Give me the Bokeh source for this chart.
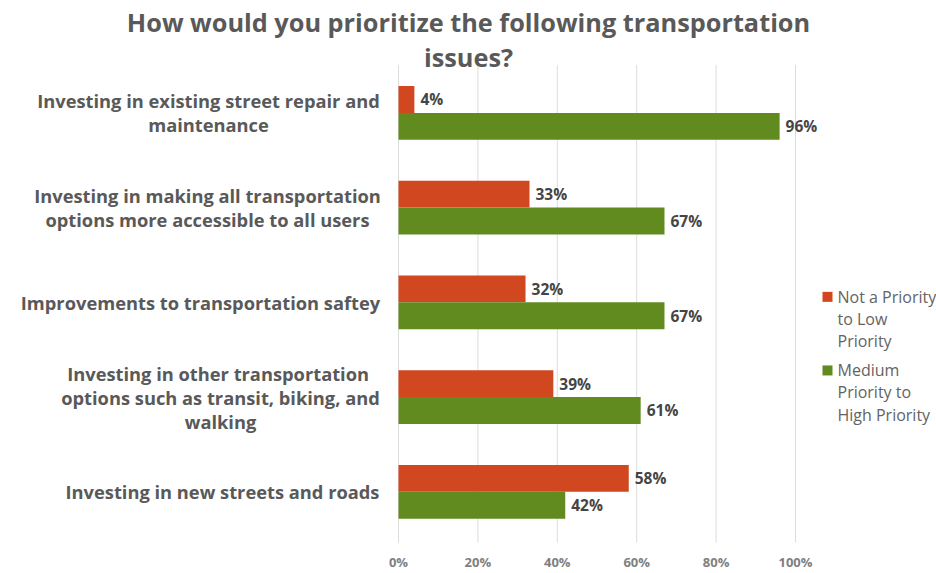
from bokeh.plotting import figure
from bokeh.models import Range1d, FixedTicker, ColumnDataSource
from bokeh.core.properties import value
from bokeh.embed import file_html
from bokeh.resources import INLINE

# ---------------- data ----------------
categories = [
    "Investing in existing street repair and\nmaintenance",
    "Investing in making all transportation\noptions more accessible to all users",
    "Improvements to transportation saftey",
    "Investing in other  transportation\noptions such as transit, biking, and\nwalking",
    "Investing in new streets and roads",
]
not_priority = [0.04, 0.33, 0.32, 0.39, 0.58]
med_high_priority = [0.96, 0.67, 0.67, 0.61, 0.42]
series_names = ["Not a Priority\nto Low\nPriority", "Medium\nPriority to\nHigh Priority"]
tick_values = [0, 0.2, 0.4, 0.6, 0.8, 1.0]
tick_labels = ["0%", "20%", "40%", "60%", "80%", "100%"]
title_text = "How would you prioritize the following transportation\nissues?"

# ---------------- layout ----------------
W, H = 936, 573
BOTTOM = 26
PAGE_OFF = 0
ZERO_PX = 398          # frame px of 0%
PX_PER_UNIT = 397      # px per 100%
CAT0_Y = 113           # page y of first category centre
CAT_STEP = 95.25       # px between categories
BAR_PX = 27


def xd(page_x):
    return (page_x - PAGE_OFF - ZERO_PX) / PX_PER_UNIT


def yd(page_y):
    return (page_y - CAT0_Y) / CAT_STEP


RED = "#D1471F"
GREEN = "#628B1F"
TXT = "#595959"
FONT = "Open Sans"

x_start = xd(PAGE_OFF)
x_end = xd(PAGE_OFF + W)
y_top = yd(PAGE_OFF)
y_bottom = yd(PAGE_OFF + H - BOTTOM)

p = figure(width=W, height=H, output_backend="svg", toolbar_location=None,
           x_range=Range1d(x_start, x_end), y_range=Range1d(y_bottom, y_top),
           y_axis_location=None, min_border_left=0, min_border_right=0,
           min_border_top=0, min_border_bottom=BOTTOM)
p.outline_line_color = None
p.grid.visible = False
p.background_fill_color = "white"

# gridlines
p.segment(x0=tick_values, x1=tick_values,
          y0=[yd(65)] * len(tick_values), y1=[yd(545)] * len(tick_values),
          line_color="#DCDCDC", line_width=1)

h = BAR_PX / CAT_STEP
idx = list(range(len(categories)))
src = ColumnDataSource(dict(
    yr=[i - h / 2 for i in idx],
    yg=[i + h / 2 for i in idx],
    red=not_priority,
    green=med_high_priority,
    red_lbl=[f"{round(v * 100)}%" for v in not_priority],
    green_lbl=[f"{round(v * 100)}%" for v in med_high_priority],
    red_x=[v + 6 / PX_PER_UNIT for v in not_priority],
    green_x=[v + 6 / PX_PER_UNIT for v in med_high_priority],
))

p.hbar(y="yr", height=h, left=0, right="red", source=src,
       fill_color=RED, line_color=None)
p.hbar(y="yg", height=h, left=0, right="green", source=src,
       fill_color=GREEN, line_color=None)

for xcol, ycol, tcol in (("red_x", "yr", "red_lbl"), ("green_x", "yg", "green_lbl")):
    p.text(x=xcol, y=ycol, text=tcol, source=src, text_font=value(FONT),
           text_font_style="bold", text_font_size="15.5px", text_color="#454545",
           text_align="left", text_baseline="middle")

# category labels (centred block, right edge near 380px)
label_centres_px = [208, 207, 200, 220, 222]
p.text(x=[xd(c) for c in label_centres_px], y=idx, text=categories,
       text_font=value(FONT), text_font_style="bold", text_font_size="18.3px",
       text_color=TXT, text_align="center", text_baseline="middle",
       text_line_height=0.96)

# title
p.text(x=[xd(468)], y=[yd(39.5)], text=[title_text], text_font=value(FONT),
       text_font_style="bold", text_font_size="25.3px", text_color=TXT,
       text_align="center", text_baseline="middle", text_line_height=1.02)

# legend
leg_y_px = [298, 372]
p.scatter(x=[xd(827)] * 2, y=[yd(v) for v in leg_y_px], marker="square",
          size=10, fill_color=[RED, GREEN], line_color=None)
p.text(x=[xd(837)] * 2, y=[yd(v + 22) for v in leg_y_px], text=series_names,
       text_font=value(FONT), text_font_size="16px", text_color="#636363",
       text_align="left", text_baseline="middle", text_line_height=1.01)

# x axis
ax = p.xaxis[0]
ax.ticker = FixedTicker(ticks=tick_values)
ax.major_label_overrides = {v: l for v, l in zip(tick_values, tick_labels)}
ax.axis_line_color = None
ax.major_tick_line_color = None
ax.minor_tick_line_color = None
ax.major_tick_out = 0
ax.major_label_standoff = 8
ax.major_label_text_font = FONT
ax.major_label_text_font_style = "bold"
ax.major_label_text_font_size = "13px"
ax.major_label_text_color = "#7F7F7F"

open("out.html", "w").write(file_html(p, INLINE))
